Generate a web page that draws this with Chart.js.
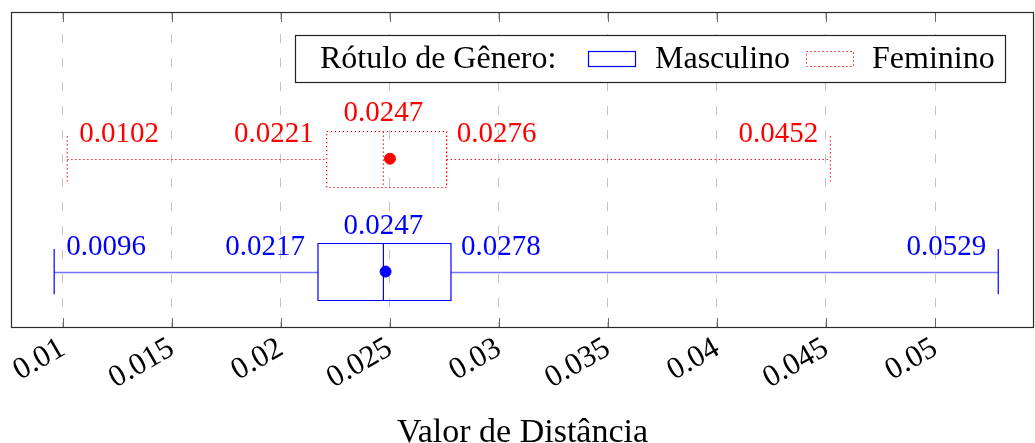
<!DOCTYPE html>
<html>
<head>
<meta charset="utf-8">
<script src="https://cdn.jsdelivr.net/npm/chart.js@4.4.0/dist/chart.umd.min.js"></script>
<style>
body{margin:0;background:#fff;}
#wrap{width:1035px;height:443px;}
</style>
</head>
<body>
<div id="wrap"><canvas id="myChart"></canvas></div>
<script>
// data
const series = ['Masculino', 'Feminino'];
const yPos = [1, 2];
const mins = [0.0096, 0.0102];
const q1s = [0.0217, 0.0221];
const medians = [0.0247, 0.0247];
const q3s = [0.0278, 0.0276];
const maxs = [0.0529, 0.0452];
const means = [0.0248, 0.0250];
const labelText = [
  ['0.0096', '0.0217', '0.0247', '0.0278', '0.0529'],
  ['0.0102', '0.0221', '0.0247', '0.0276', '0.0452']
];
const tickValues = [0.01, 0.015, 0.02, 0.025, 0.03, 0.035, 0.04, 0.045, 0.05];
const tickLabels = ['0.01', '0.015', '0.02', '0.025', '0.03', '0.035', '0.04', '0.045', '0.05'];

const FONT = '"Liberation Serif", "Times New Roman", serif';
const styles = [
  {color: '#0000ff', whisker: '#7474ff', wWidth: 1.7, dash: []},
  {color: '#ff0000', whisker: '#ff0000', wWidth: 1, dash: [1.3, 2.7]}
];
const boxHalf = 0.25;
const capHalf = 0.2;

const boxPlugin = {
  id: 'boxes',
  beforeDatasetsDraw(chart) {
    const ctx = chart.ctx;
    const x = chart.scales.x, y = chart.scales.y;
    for (let i = 0; i < series.length; i++) {
      const st = styles[i];
      const yc = Math.round(y.getPixelForValue(yPos[i])) + 0.5;
      const bt = Math.round(y.getPixelForValue(yPos[i] + boxHalf)) + 0.5;
      const bb = Math.round(y.getPixelForValue(yPos[i] - boxHalf)) + 0.5;
      const ct = y.getPixelForValue(yPos[i] + capHalf);
      const cb = y.getPixelForValue(yPos[i] - capHalf);
      const pMin = x.getPixelForValue(mins[i]);
      const pQ1 = x.getPixelForValue(q1s[i]);
      const pMed = x.getPixelForValue(medians[i]);
      const pQ3 = x.getPixelForValue(q3s[i]);
      const pMax = x.getPixelForValue(maxs[i]);
      ctx.save();
      ctx.setLineDash(st.dash);
      // whiskers
      ctx.strokeStyle = st.whisker;
      ctx.lineWidth = st.wWidth;
      ctx.beginPath();
      ctx.moveTo(pMin, yc); ctx.lineTo(pQ1, yc);
      ctx.moveTo(pQ3, yc); ctx.lineTo(pMax, yc);
      ctx.stroke();
      // caps, box, median
      ctx.strokeStyle = st.color;
      ctx.lineWidth = 1.2;
      ctx.beginPath();
      ctx.moveTo(pMin, ct); ctx.lineTo(pMin, cb);
      ctx.moveTo(pMax, ct); ctx.lineTo(pMax, cb);
      ctx.stroke();
      ctx.beginPath();
      ctx.rect(pQ1, bt, pQ3 - pQ1, bb - bt);
      ctx.moveTo(pMed, bt); ctx.lineTo(pMed, bb);
      ctx.stroke();
      ctx.restore();
    }
  },
  afterDraw(chart) {
    const ctx = chart.ctx;
    const x = chart.scales.x, y = chart.scales.y;
    const a = chart.chartArea;
    ctx.save();
    // tick marks
    ctx.strokeStyle = '#6a6a6a';
    ctx.lineWidth = 1;
    ctx.beginPath();
    tickValues.forEach(v => {
      const px = Math.round(x.getPixelForValue(v)) + 0.5;
      ctx.moveTo(px, a.top); ctx.lineTo(px, a.top + 10);
      ctx.moveTo(px, a.bottom); ctx.lineTo(px, a.bottom - 10);
    });
    ctx.stroke();
    // frame
    ctx.strokeStyle = '#2a2a2a';
    ctx.lineWidth = 1.2;
    ctx.strokeRect(a.left + 0.5, a.top + 0.5, a.right - a.left - 1, a.bottom - a.top - 1);

    // value labels
    ctx.font = '29px ' + FONT;
    ctx.textBaseline = 'alphabetic';
    for (let i = 0; i < series.length; i++) {
      const yc = y.getPixelForValue(yPos[i]);
      ctx.fillStyle = styles[i].color;
      const t = labelText[i];
      ctx.textAlign = 'left';
      ctx.fillText(t[0], x.getPixelForValue(mins[i]) + 12, yc - 17);
      ctx.textAlign = 'right';
      ctx.fillText(t[1], x.getPixelForValue(q1s[i]) - 13, yc - 17);
      ctx.textAlign = 'center';
      ctx.fillText(t[2], x.getPixelForValue(medians[i]), yc - 38);
      ctx.textAlign = 'left';
      ctx.fillText(t[3], x.getPixelForValue(q3s[i]) + 10, yc - 17);
      ctx.textAlign = 'right';
      ctx.fillText(t[4], x.getPixelForValue(maxs[i]) - 12, yc - 17);
    }

    // legend
    const L = a.left + 284, T = a.top + 23, R = a.right - 29, B = a.top + 70;
    ctx.fillStyle = '#fff';
    ctx.fillRect(L, T, R - L, B - T);
    ctx.strokeStyle = '#222';
    ctx.lineWidth = 1.2;
    ctx.setLineDash([]);
    ctx.strokeRect(L + 0.5, T + 0.5, R - L, B - T);
    ctx.font = '32px ' + FONT;
    ctx.fillStyle = '#000';
    ctx.textAlign = 'left';
    const base = T + 33;
    ctx.fillText('Rótulo de Gênero:', L + 25, base);
    ctx.strokeStyle = styles[0].color;
    ctx.lineWidth = 1.2;
    ctx.strokeRect(L + 293.5, T + 16.5, 47, 15);
    ctx.fillText(series[0], L + 360, base);
    ctx.strokeStyle = styles[1].color;
    ctx.lineWidth = 1;
    ctx.setLineDash(styles[1].dash);
    ctx.strokeRect(L + 511.5, T + 16.5, 47, 15);
    ctx.setLineDash([]);
    ctx.fillText(series[1], L + 577, base);
    ctx.restore();
  }
};

const ctx = document.getElementById('myChart').getContext('2d');
const myChart = new Chart(ctx, {
  type: 'scatter',
  data: {
    datasets: series.map((s, i) => ({
      label: s,
      data: [{x: means[i], y: yPos[i]}],
      backgroundColor: styles[i].color,
      borderColor: styles[i].color,
      pointRadius: 5.5,
      pointHoverRadius: 5.5
    }))
  },
  options: {
    responsive: true,
    maintainAspectRatio: false,
    animation: false,
    layout: {autoPadding: false, padding: {left: 11, right: 1, top: 12, bottom: 0}},
    plugins: {
      legend: {display: false},
      tooltip: {enabled: false}
    },
    scales: {
      x: {
        type: 'linear',
        min: 0.00762,
        max: 0.05454,
        afterBuildTicks: (scale) => {
          scale.ticks = tickValues.map(v => ({value: v}));
        },
        afterFit: (scale) => {
          scale.height = 115;
          scale.paddingLeft = 0;
          scale.paddingRight = 0;
        },
        grid: {
          color: '#c4c4c4',
          lineWidth: 1,
          drawTicks: false
        },
        border: {display: false, dash: [9, 15], dashOffset: 2},
        ticks: {
          autoSkip: false,
          minRotation: 30,
          maxRotation: 30,
          padding: 2,
          color: '#000',
          font: {family: FONT, size: 31},
          callback: (value, index) => tickLabels[index]
        },
        title: {
          display: true,
          text: 'Valor de Distância',
          color: '#000',
          font: {family: FONT, size: 34, lineHeight: 1},
          padding: {top: 0, bottom: -7}
        }
      },
      y: {
        type: 'linear',
        display: false,
        min: 0.5,
        max: 3.3
      }
    }
  },
  plugins: [boxPlugin]
});
</script>
</body>
</html>
